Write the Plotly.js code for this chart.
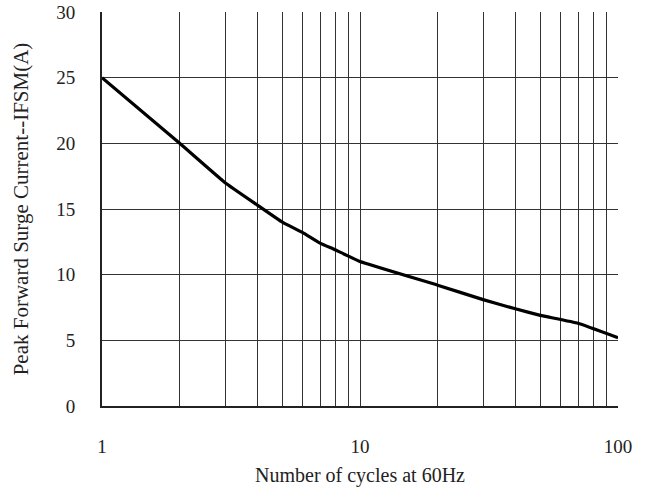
<!DOCTYPE html>
<html>
<head>
<meta charset="utf-8">
<script src="https://cdn.plot.ly/plotly-3.0.1.min.js"></script>
<style>html,body{margin:0;padding:0;background:#fff;}#chart{width:646px;height:488px;}</style>
</head>
<body>
<div id="chart"></div>
<script>
const cycles = [1, 2, 3, 4, 5, 6, 7, 8, 10, 20, 30, 40, 50, 70, 100];
const current = [25, 20, 17, 15.3, 14, 13.2, 12.4, 11.9, 11, 9.2, 8.1, 7.4, 6.9, 6.3, 5.2];
const xTickVals = [1,2,3,4,5,6,7,8,9,10,20,30,40,50,60,70,80,90,100];
const xTickText = ['1','','','','','','','','','10','','','','','','','','','100'];
const yTickVals = [0,5,10,15,20,25,30];

const fontFam = '"Liberation Serif", "DejaVu Serif", serif';

Plotly.newPlot('chart', [{
  x: cycles, y: current, type: 'scatter', mode: 'lines',
  line: {color: '#000', width: 3.2, shape: 'spline', smoothing: 0.3},
  hoverinfo: 'skip'
}], {
  width: 646, height: 488,
  margin: {l: 102, r: 28, t: 12, b: 82},
  paper_bgcolor: '#fff', plot_bgcolor: '#fff',
  showlegend: false,
  font: {family: fontFam, color: '#222', size: 19},
  xaxis: {
    type: 'log', range: [0, 2],
    tickmode: 'array', tickvals: xTickVals, ticktext: xTickText,
    showgrid: true, gridcolor: '#333', gridwidth: 1,
    showline: true, linecolor: '#222', linewidth: 2,
    ticks: '', ticklabelstandoff: 22,
    zeroline: false,
    tickfont: {family: fontFam, size: 19, color: '#222'},
    title: {text: 'Number of cycles at 60Hz', font: {family: fontFam, size: 20, color: '#222'}, standoff: 12}
  },
  yaxis: {
    range: [0, 30],
    tickmode: 'array', tickvals: yTickVals,
    showgrid: true, gridcolor: '#333', gridwidth: 1,
    showline: true, linecolor: '#222', linewidth: 2,
    ticks: '', ticklabelstandoff: 21,
    zeroline: false,
    tickfont: {family: fontFam, size: 19, color: '#222'},
    title: {text: 'Peak Forward Surge Current--IFSM(A)', font: {family: fontFam, size: 21, color: '#222'}, standoff: 22}
  }
}, {staticPlot: true});
</script>
</body>
</html>
